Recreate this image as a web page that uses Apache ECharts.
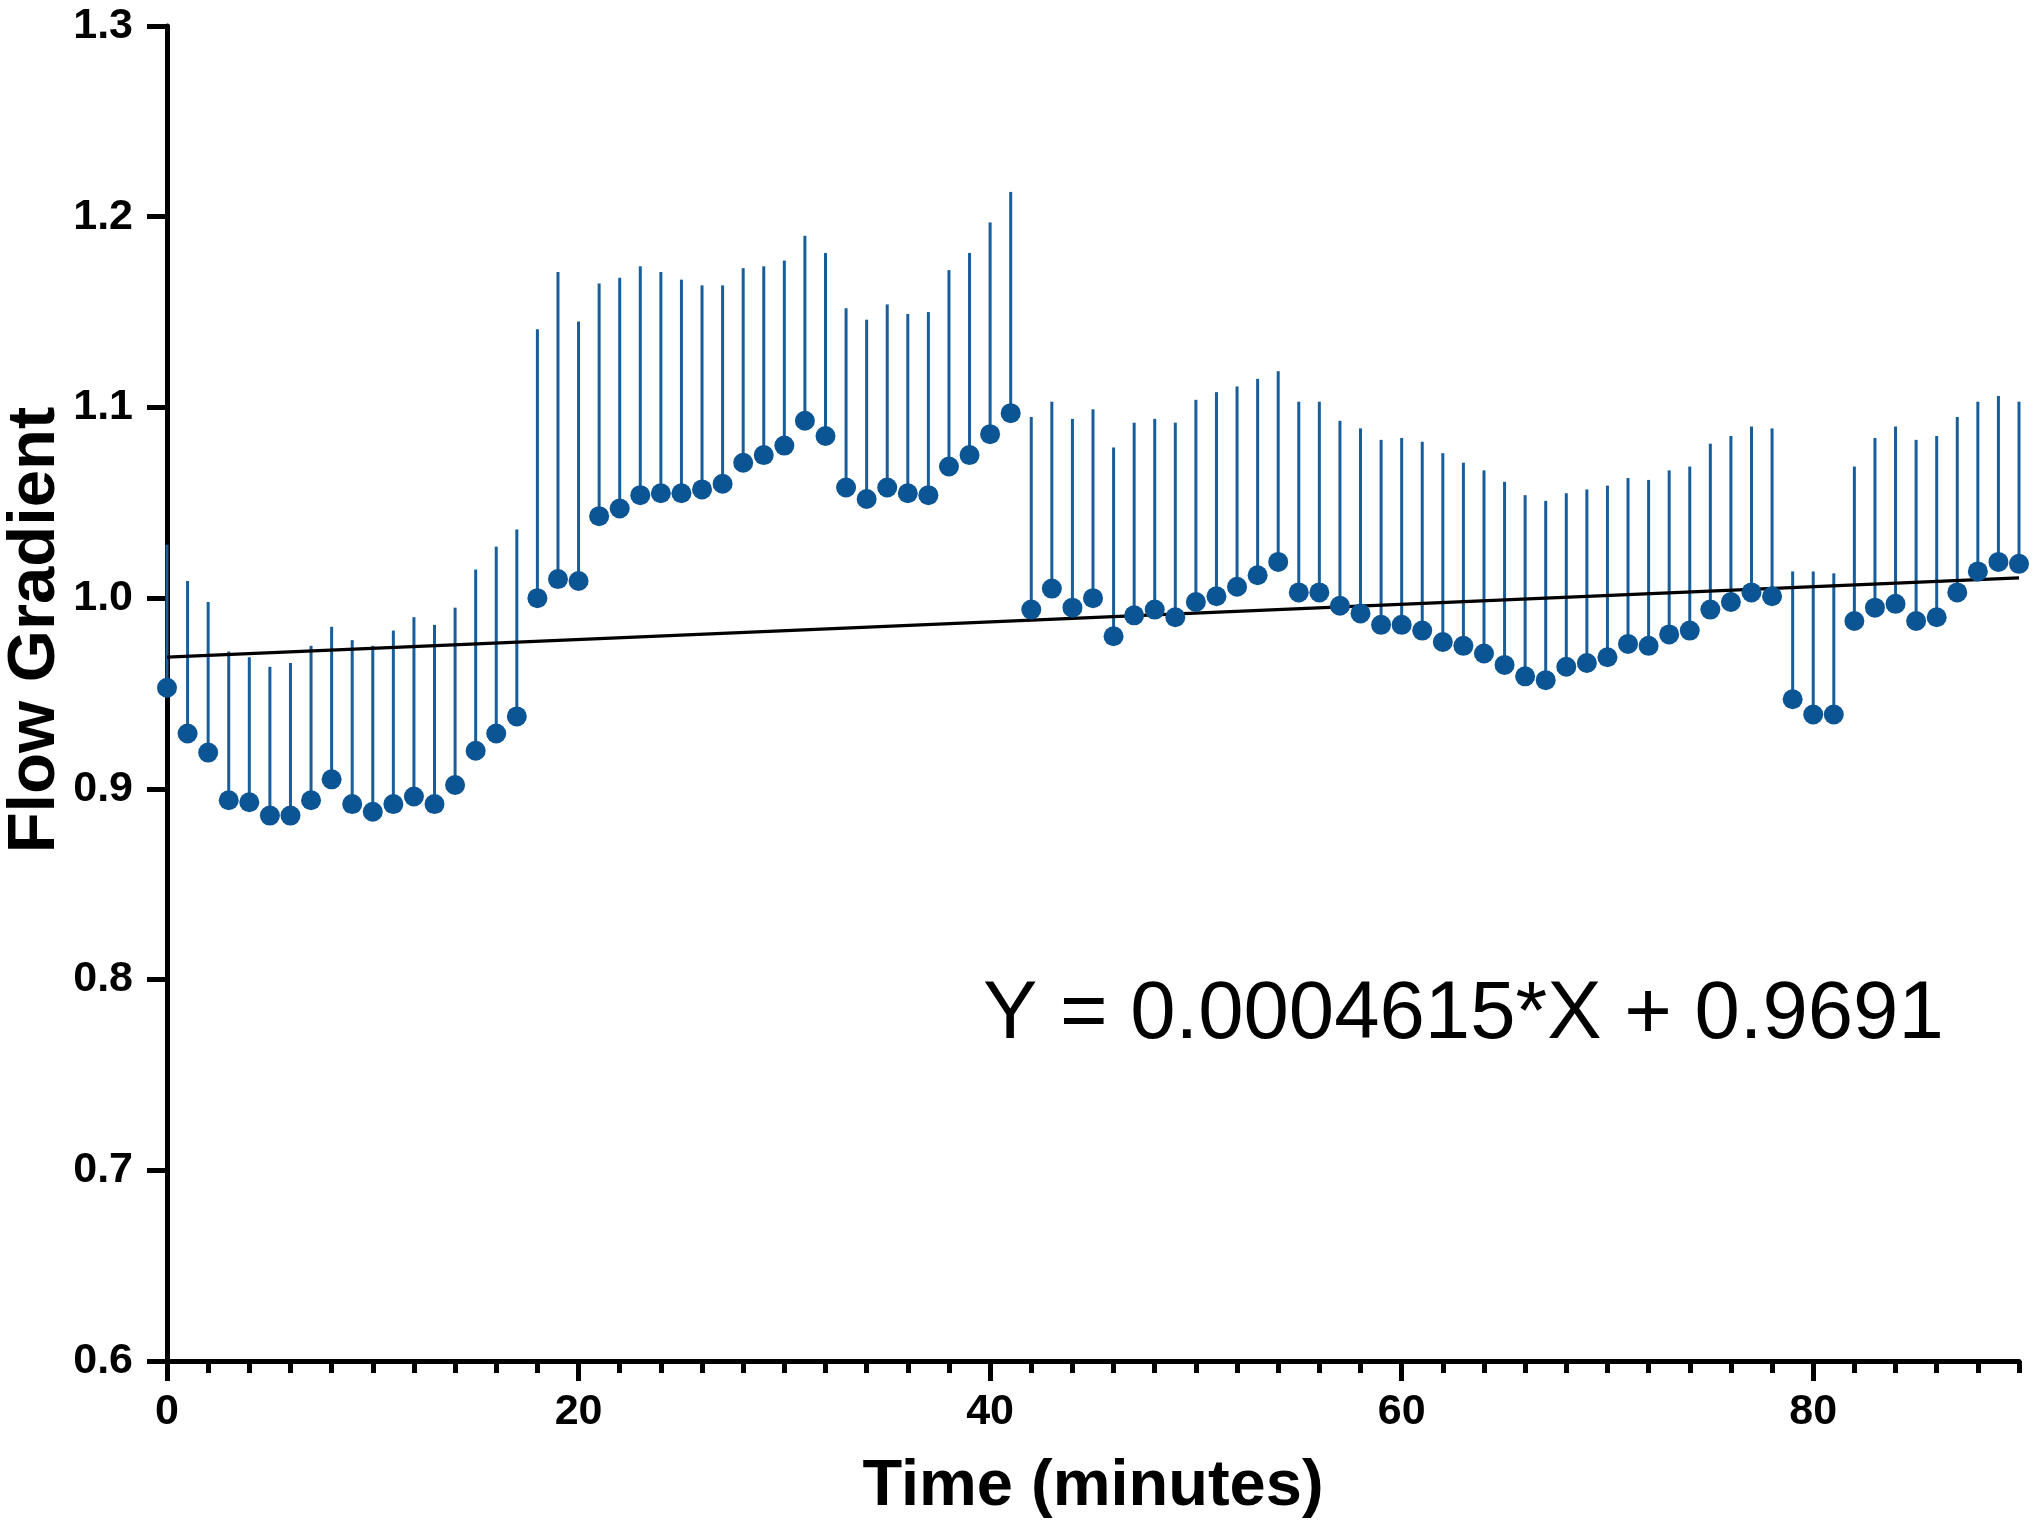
<!DOCTYPE html>
<html>
<head>
<meta charset="utf-8">
<script src="https://cdn.jsdelivr.net/npm/echarts@6/dist/echarts.min.js"></script>
<style>
html,body{margin:0;padding:0;background:#fff;}
#chart{width:2040px;height:1533px;}
</style>
</head>
<body>
<div id="chart"></div>
<script>
// ---- data ----
var minutes = [0,1,2,3,4,5,6,7,8,9,10,11,12,13,14,15,16,17,18,19,20,21,22,23,24,25,26,27,28,29,30,
  31,32,33,34,35,36,37,38,39,40,41,42,43,44,45,46,47,48,49,50,51,52,53,54,55,56,57,58,59,60,
  61,62,63,64,65,66,67,68,69,70,71,72,73,74,75,76,77,78,79,80,81,82,83,84,85,86,87,88,89,90];
var meanGradient = [0.953,0.929,0.919,0.894,0.893,0.886,0.886,0.894,0.905,0.892,0.888,0.892,0.896,0.892,0.902,0.920,
  0.929,0.938,1.000,1.010,1.009,1.043,1.047,1.054,1.055,1.055,1.057,1.060,1.071,1.075,1.080,
  1.093,1.085,1.058,1.052,1.058,1.055,1.054,1.069,1.075,1.086,1.097,0.994,1.005,0.995,1.000,
  0.980,0.991,0.994,0.990,0.998,1.001,1.006,1.012,1.019,1.003,1.003,0.996,0.992,0.986,0.986,
  0.983,0.977,0.975,0.971,0.965,0.959,0.957,0.964,0.966,0.969,0.976,0.975,0.981,0.983,0.994,
  0.998,1.003,1.001,0.947,0.939,0.939,0.988,0.995,0.997,0.988,0.990,1.003,1.014,1.019,1.018];
var upperGradient = [1.028,1.009,0.998,0.972,0.969,0.964,0.966,0.975,0.985,0.978,0.975,0.983,0.990,0.986,0.995,1.015,
  1.027,1.036,1.141,1.171,1.145,1.165,1.168,1.174,1.171,1.167,1.164,1.164,1.173,1.174,1.177,
  1.190,1.181,1.152,1.146,1.154,1.149,1.150,1.172,1.181,1.197,1.213,1.095,1.103,1.094,1.099,
  1.079,1.092,1.094,1.092,1.104,1.108,1.111,1.115,1.119,1.103,1.103,1.093,1.089,1.083,1.084,
  1.082,1.076,1.071,1.067,1.061,1.054,1.051,1.055,1.057,1.059,1.063,1.062,1.067,1.069,1.081,
  1.085,1.090,1.089,1.014,1.014,1.013,1.069,1.084,1.090,1.083,1.085,1.095,1.103,1.106,1.103];
var fitSlope = 0.0004615;
var fitIntercept = 0.9691;
var fitRange = [0, 90];
var xMajorTicks = [0, 20, 40, 60, 80];
var equationText = 'Y = 0.0004615*X + 0.9691';
var xTitle = 'Time (minutes)';
var yTitle = 'Flow Gradient';

// ---- build series data ----
var pointData = minutes.map(function (m, i) { return [m, meanGradient[i]]; });
var errData = minutes.map(function (m, i) { return [m, meanGradient[i], upperGradient[i]]; });
var fitData = fitRange.map(function (x) { return [x, fitSlope * x + fitIntercept]; });

var BLUE = '#0c5594';
var BAR_BLUE = '#175e9b';
var FONT = '"Liberation Sans", Arial, Helvetica, sans-serif';

var chart = echarts.init(document.getElementById('chart'), null, {renderer: 'canvas'});
chart.setOption({
  animation: false,
  backgroundColor: '#ffffff',
  grid: {left: 167, right: 21, top: 26, bottom: 172, containLabel: false, outerBoundsMode: 'none'},
  xAxis: [{
    type: 'value', min: 0, max: 90, interval: 2,
    axisLine: {show: true, lineStyle: {color: '#000', width: 5}},
    axisTick: {show: true, length: 12, lineStyle: {color: '#000', width: 5}},
    axisLabel: {show: true, customValues: xMajorTicks, margin: 30,
      fontFamily: FONT, fontWeight: 'bold', fontSize: 43, color: '#000'},
    splitLine: {show: false},
    name: xTitle, nameLocation: 'middle', nameGap: 94,
    nameTextStyle: {fontFamily: FONT, fontWeight: 'bold', fontSize: 65, color: '#000'}
  }, {
    type: 'value', min: 0, max: 90, interval: 2, position: 'bottom',
    axisLine: {show: false},
    axisTick: {show: true, customValues: xMajorTicks, length: 20, lineStyle: {color: '#000', width: 5}},
    axisLabel: {show: false},
    splitLine: {show: false}
  }],
  yAxis: {
    type: 'value', min: 0.6, max: 1.3, interval: 0.1,
    axisLine: {show: true, lineStyle: {color: '#000', width: 5}},
    axisTick: {show: true, length: 20, lineStyle: {color: '#000', width: 5}},
    axisLabel: {margin: 34, fontFamily: FONT, fontWeight: 'bold', fontSize: 43, color: '#000',
      formatter: function (v) { return v.toFixed(1); }},
    splitLine: {show: false}
  },
  graphic: [{
    type: 'text', x: 36, y: 630, rotation: Math.PI / 2,
    style: {text: yTitle, font: 'bold 67px ' + FONT, fill: '#000', align: 'center', verticalAlign: 'middle'}
  }, {
    type: 'text', x: 983, y: 1016,
    style: {text: equationText, font: '81.5px ' + FONT, fill: '#000', align: 'left', verticalAlign: 'middle'}
  }],
  series: [{
    type: 'custom',
    name: 'error',
    xAxisIndex: 0,
    data: errData,
    encode: {x: 0, y: [1, 2]},
    z: 1,
    renderItem: function (params, api) {
      var p0 = api.coord([api.value(0), api.value(1)]);
      var p1 = api.coord([api.value(0), api.value(2)]);
      return {
        type: 'line',
        shape: {x1: p0[0], y1: p0[1], x2: p1[0], y2: p1[1]},
        style: {stroke: BAR_BLUE, lineWidth: 3}
      };
    }
  }, {
    type: 'line',
    name: 'fit',
    xAxisIndex: 0,
    data: fitData,
    showSymbol: false,
    symbol: 'none',
    lineStyle: {color: '#000', width: 3.2},
    z: 2
  }, {
    type: 'scatter',
    name: 'mean',
    xAxisIndex: 0,
    data: pointData,
    symbol: 'circle',
    symbolSize: 20,
    itemStyle: {color: BLUE, opacity: 1},
    z: 3
  }]
});
</script>
</body>
</html>
